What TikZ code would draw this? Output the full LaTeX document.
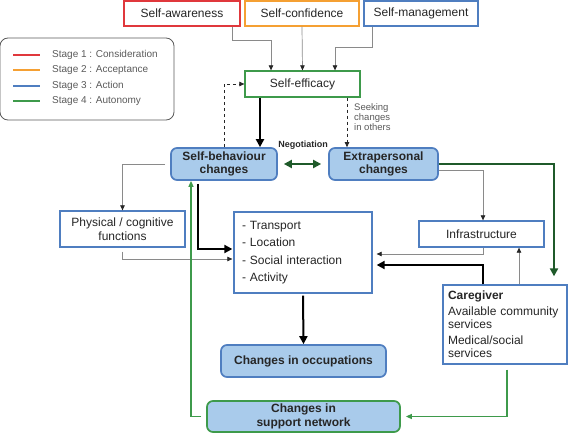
\documentclass[tikz,border=0pt]{standalone}
\usepackage{fontspec}
\setmainfont{Liberation Sans}
\usepackage{tikz}
\usetikzlibrary{arrows.meta,positioning}
\definecolor{stagered}{HTML}{E0383C}
\definecolor{stageorange}{HTML}{F5A033}
\definecolor{stageblue}{HTML}{4F7EC0}
\definecolor{stagegreen}{HTML}{3E9A4B}
\definecolor{darkgreen}{HTML}{1F5A2A}
\definecolor{changefill}{HTML}{A9CBEB}
\definecolor{ink}{HTML}{262626}
\definecolor{linegray}{HTML}{8A8A8A}
\definecolor{legendgray}{HTML}{5A5A5A}

\begin{document}
\begin{tikzpicture}[x=1pt,y=-1pt,
		box/.style={draw,line width=1.3pt,fill=white,text=ink,inner sep=0pt,align=center,font=\fontsize{12}{13.5}\selectfont},
		change/.style={draw=stageblue,fill=changefill,line width=1.7pt,rounded corners=6pt,text=ink,inner sep=0pt,align=center,font=\bfseries\fontsize{12}{13.5}\selectfont},
		link/.style={draw=linegray,line width=0.7pt,-{Triangle[length=5pt,width=4.5pt,color=ink]}},
		strong/.style={draw=black,line width=2pt,-{Triangle[length=8pt,width=8pt]}},
		greenlink/.style={draw=stagegreen,line width=1.3pt,-{Triangle[length=6pt,width=5pt]}}]
		\useasboundingbox (0,0) rectangle (570,433);
		% legend
		\node(legend) [draw=legendgray,line width=0.8pt,rounded corners=8pt,minimum width=174pt,minimum height=82pt] at (87,79) {};
		\foreach \y/\c/\t [count=\i] in {55/stagered/Stage 1 : Consideration,70/stageorange/Stage 2 : Acceptance,86/stageblue/Stage 3 : Action,101/stagegreen/Stage 4 : Autonomy}{
			\draw[\c,line width=1.6pt] (13,\y) -- (40,\y);
			\node(lg\i) at (52,\y) [anchor=west,inner sep=0pt,text=legendgray,font=\fontsize{10}{12}\selectfont] {\t};
		}
		% top row
		\node(aware) [box,draw=stagered,minimum width=116pt,minimum height=25pt] at (182,13.5) {Self-awareness};
		\node(confid) [box,draw=stageorange,minimum width=114pt,minimum height=25pt] at (302,13.5) {Self-confidence};
		\node(manage) [box,draw=stageblue,minimum width=114pt,minimum height=25pt] at (421,13.5) {Self-management};
		\node(efficacy) [box,draw=stagegreen,minimum width=115pt,minimum height=26pt] at (302.5,84) {Self-efficacy};
		% changes
		\node(selfbeh) [change,minimum width=106pt,minimum height=32pt] at (224,164) {Self-behaviour\\changes};
		\node(extra) [change,minimum width=109pt,minimum height=32pt] at (383.5,164) {Extrapersonal\\changes};
		\node(physical) [box,draw=stageblue,minimum width=125pt,minimum height=36pt] at (122.5,229) {Physical / cognitive\\functions};
		\node(list) [box,draw=stageblue,align=left,text width=122pt,inner xsep=8pt,minimum height=81pt,font=\fontsize{12}{17.3}\selectfont] at (303,252.5) {- Transport\\- Location\\- Social interaction\\- Activity};
		\node(infra) [box,draw=stageblue,minimum width=125pt,minimum height=26pt] at (481.5,234) {Infrastructure};
		\node(caregiver) [box,draw=stageblue,align=left,text width=114pt,inner xsep=5pt,minimum height=79pt,font=\fontsize{12}{13}\selectfont] at (505,324.5) {\textbf{Caregiver}\\[3pt]Available community\\services\\[3pt]Medical/social\\services};
		\node(occup) [change,minimum width=165pt,minimum height=32pt] at (303.5,361) {Changes in occupations};
		\node(support) [change,draw=stagegreen,minimum width=193pt,minimum height=31pt] at (303.5,416.5) {Changes in\\support network};
		% labels
		\node(seeking) [anchor=north west,inner sep=0pt,align=left,text=legendgray,font=\fontsize{9.5}{10}\selectfont] at (354,103) {Seeking\\changes\\in others};
		\node(nego) [inner sep=0pt,text=ink,font=\bfseries\fontsize{9}{10}\selectfont] at (303,145) {Negotiation};
		% connectors
		\draw[link] ([xshift=-8pt]aware.south east) -- ++(0,14) -| ([xshift=-31.5pt]efficacy.north);
		\draw[link] (confid.south) -- (efficacy.north);
		\draw[link] ([xshift=9pt]manage.south west) -- ++(0,21) -| ([xshift=32.5pt]efficacy.north);
		\draw[link,dashed,draw=ink] (selfbeh.north) |- (efficacy.west);
		\draw[strong] ([xshift=-42.5pt]efficacy.south) -- ([xshift=-42.5pt]efficacy.south |- selfbeh.north);
		\draw[link,dashed,draw=ink] ([xshift=44.5pt]efficacy.south) -- ([xshift=44.5pt]efficacy.south |- extra.north);
		\draw[draw=darkgreen,line width=2.4pt,{Triangle[length=8pt,width=8pt]}-{Triangle[length=8pt,width=8pt]}] ([xshift=6pt]selfbeh.east) -- ([xshift=-7pt]extra.west);
		\draw[draw=darkgreen,line width=2.8pt,-{Triangle[length=8pt,width=8pt]}] (extra.east) -| ([xshift=49pt,yshift=8pt]caregiver.north);
		\draw[link] ([yshift=-6pt]extra.east) -| ([xshift=1.5pt]infra.north);
		\draw[link] ([xshift=-5pt]selfbeh.west) -| (physical.north);
		\draw[link] ([yshift=-4pt]physical.south) |- ([xshift=-1pt,yshift=-6.5pt]list.west);
		\draw[strong] ([xshift=-26pt,yshift=-3pt]selfbeh.south) |- ([xshift=-1pt,yshift=3.5pt]list.west);
		\draw[link] ([xshift=1.5pt]infra.south) |- ([xshift=4pt,yshift=-1.5pt]list.east);
		\draw[strong] ([xshift=-22pt]caregiver.north) |- ([xshift=4pt,yshift=-12.5pt]list.east);
		\draw[link] ([xshift=14pt]caregiver.north) -- ([xshift=14pt]caregiver.north |- infra.south);
		\draw[strong] ([yshift=-2pt]list.south) -- (occup.north);
		\draw[greenlink] ([xshift=2pt,yshift=-5pt]caregiver.south) |- ([xshift=5pt]support.east);
		\draw[greenlink] ([xshift=-5pt]support.west) -| ([xshift=-33pt]selfbeh.south);
	\end{tikzpicture}
\end{document}
